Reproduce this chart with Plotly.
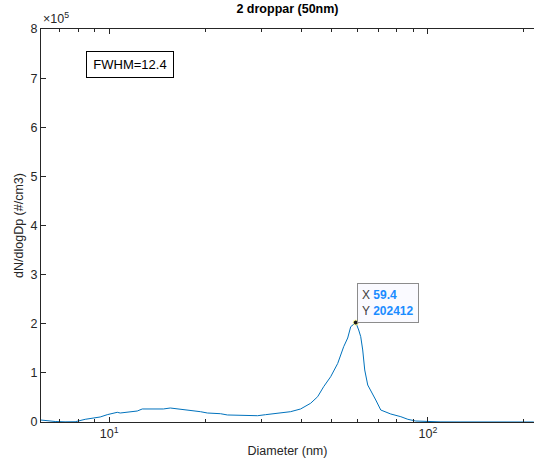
import numpy as np
import plotly.graph_objects as go

diameter_nm = [6.11, 6.43, 6.77, 7.27, 7.82, 8.41, 8.91, 9.37, 9.86, 10.29, 10.60, 10.83,
               11.65, 12.25, 12.70, 13.46, 14.79, 15.55, 16.72, 17.98, 19.33, 20.33, 22.34,
               23.50, 25.82, 29.21, 30.95, 33.27, 37.09, 39.87, 42.87, 45.10, 47.10, 49.55,
               52.12, 54.43, 56.03, 57.27, 59.4, 60.67, 61.56, 62.45, 63.37, 64.76, 66.67,
               68.63, 71.15, 76.47, 82.27, 86.51, 91.67, 100.0, 109.9, 127.0, 158.0, 215.0]
dNdlogDp = [4000, 2000, 1000, 300, 500, 5500, 8750, 10200, 14900, 17700, 19750, 18300,
            21400, 22400, 26500, 26500, 26500, 28500, 26500, 24400, 21000, 18300, 16900,
            14300, 13600, 12800, 14900, 17300, 21000, 26500, 38100, 51500, 71900, 92200,
            119100, 153300, 171000, 194000, 202412, 187300, 173700, 146600, 105900, 75300, 61000,
            44800, 24400, 16300, 10800, 5500, 2000, 600, 200, 100, 50, 20]

peak_x = 59.4
peak_y = 202412
fwhm_text = "FWHM=12.4"
title_text = "2 droppar (50nm)"
y_tick_vals = [0, 1e5, 2e5, 3e5, 4e5, 5e5, 6e5, 7e5, 8e5]
y_tick_text = ["0", "1", "2", "3", "4", "5", "6", "7", "8"]
x_tick_vals = [10, 100]
x_tick_text = ["10<sup>1</sup>", "10<sup>2</sup>"]
x_minor_vals = [7, 8, 9, 20, 30, 40, 50, 60, 70, 80, 90, 200]

axis_col = "#262626"
font_fam = "Liberation Sans, Arial, Helvetica, sans-serif"
fs = 12.5

fig = go.Figure()
fig.add_trace(go.Scatter(x=diameter_nm, y=dNdlogDp, mode="lines",
                         line=dict(color="#0072BD", width=1), hoverinfo="skip"))
fig.add_trace(go.Scatter(x=[peak_x], y=[peak_y], mode="markers",
                         marker=dict(color="#1a1a1a", size=5,
                                     line=dict(color="#ffff99", width=1)), hoverinfo="skip"))

fig.update_layout(
    width=534, height=461,
    margin=dict(l=41, r=0, t=29, b=39),
    paper_bgcolor="white", plot_bgcolor="white",
    showlegend=False,
    font=dict(family=font_fam, size=fs, color=axis_col),
    title=dict(text="<b>" + title_text + "</b>", x=0.5, xref="paper",
               y=1 - 9 / 461, yref="container", yanchor="middle",
               xanchor="center", font=dict(size=fs, color="black")),
)

fig.update_xaxes(
    type="log", range=[np.log10(6.11), np.log10(215.3)],
    tickvals=x_tick_vals, ticktext=x_tick_text,
    ticks="inside", ticklen=5, tickwidth=1, tickcolor=axis_col,
    minor=dict(tickvals=x_minor_vals, ticks="inside", ticklen=3, tickcolor=axis_col, showgrid=False),
    showline=True, linecolor=axis_col, linewidth=1, mirror="ticks",
    showgrid=False, zeroline=False,
    title=dict(text="Diameter (nm)", standoff=6, font=dict(size=fs, color=axis_col)),
    tickfont=dict(size=fs, color=axis_col),
)
fig.update_yaxes(
    range=[0, 8e5],
    tickvals=y_tick_vals, ticktext=y_tick_text,
    ticks="inside", ticklen=5, tickwidth=1, tickcolor=axis_col,
    showline=True, linecolor=axis_col, linewidth=1, mirror=False,
    showgrid=False, zeroline=False,
    title=dict(text="dN/dlogDp (#/cm3)", standoff=4, font=dict(size=fs, color=axis_col)),
    tickfont=dict(size=fs, color=axis_col),
)

fig.add_annotation(text="×10<sup>5</sup>", xref="paper", yref="paper", x=0, y=1.003,
                   xanchor="left", yanchor="bottom", showarrow=False,
                   font=dict(size=fs, color=axis_col))

fig.add_annotation(text=fwhm_text, xref="paper", yref="paper",
                   x=(86 - 41) / 493, y=(422 - 51) / 393, xanchor="left", yanchor="top",
                   showarrow=False, bordercolor="black", borderwidth=1, bgcolor="white",
                   width=84, height=23, align="center", borderpad=1,
                   font=dict(size=13, color="black"))

tip = ("<span style='color:#404040'>X</span> <b><span style='color:#1a8cff'>%s</span></b><br>"
       "<span style='color:#404040'>Y</span> <b><span style='color:#1a8cff'>%d</span></b>") % (
    "%.1f" % peak_x, peak_y)
fig.add_annotation(text=tip, x=np.log10(peak_x), y=peak_y, xref="x", yref="y",
                   xanchor="left", yanchor="bottom", showarrow=False, align="left",
                   bordercolor="#8c8c8c", borderwidth=1, bgcolor="#fafaff", borderpad=4,
                   xshift=1, yshift=0, font=dict(size=12))

fig.write_html("out.html")
